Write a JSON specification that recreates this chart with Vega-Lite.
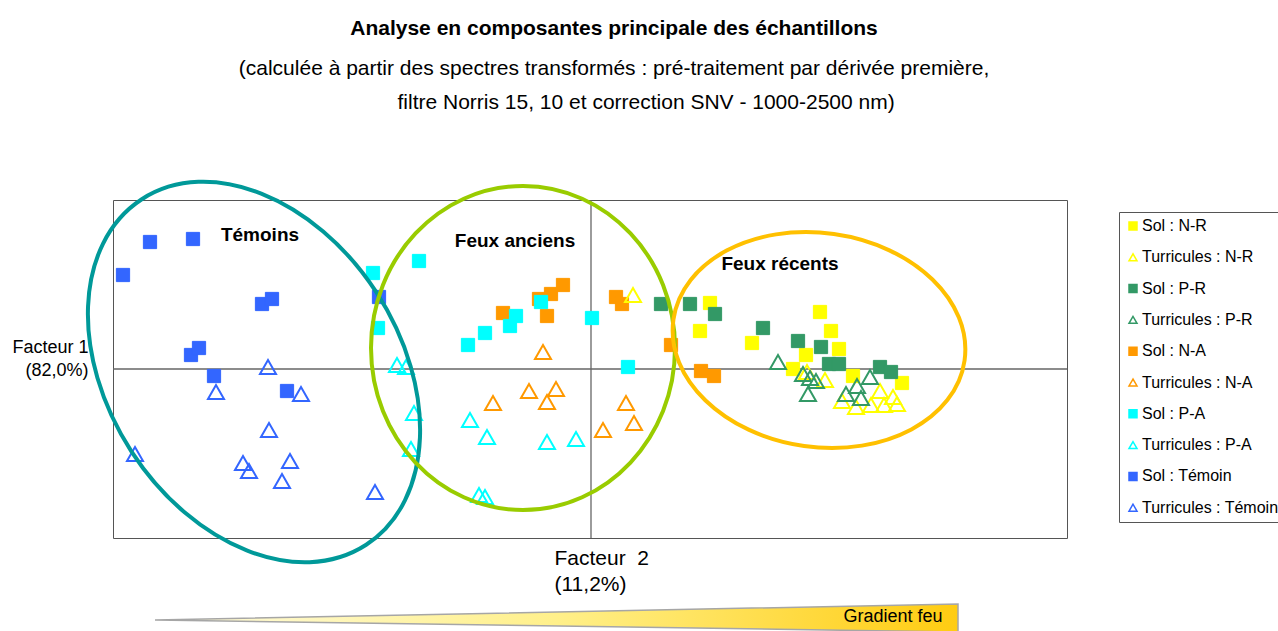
{
  "$schema": "https://vega.github.io/schema/vega-lite/v6.json",
  "width": 954,
  "height": 338,
  "autosize": {"type": "none"},
  "padding": {"left": 113, "top": 200, "right": 211, "bottom": 93},
  "background": "white",
  "config": {
    "font": "Liberation Sans",
    "view": {"stroke": "#555555", "strokeWidth": 1},
    "axis": {"domain": false, "ticks": false, "labels": false, "grid": false, "titleFont": "Liberation Sans", "titleFontWeight": "normal", "titleColor": "black"},
    "axisX": {"titleX": 441, "titleY": 26, "titleAlign": "left", "titleBaseline": "alphabetic", "titleLineHeight": 26, "titleFontSize": 21},
    "axisY": {"titleAngle": 0, "titleX": -25, "titleY": 152, "titleAlign": "right", "titleBaseline": "alphabetic", "titleLineHeight": 23, "titleFontSize": 18},
    "legend": {"orient": "none", "legendX": 1006, "legendY": 12, "labelFont": "Liberation Sans", "labelFontSize": 16, "labelColor": "black", "symbolSize": 64, "symbolStrokeWidth": 1.5, "symbolOpacity": 1, "rowPadding": 15.3, "padding": 6, "strokeColor": "#555555", "fillColor": "white", "labelOffset": 1, "labelLimit": 300}
  },
  "title": {
    "text": "Analyse en composantes principale des échantillons",
    "subtitle": ["(calculée à partir des spectres transformés : pré-traitement par dérivée première,", "\u200b\u00a0\u00a0\u00a0\u00a0\u00a0\u00a0\u00a0\u00a0\u00a0\u00a0\u00a0filtre Norris 15, 10 et correction SNV - 1000-2500 nm)"],
    "font": "Liberation Sans",
    "fontSize": 21,
    "fontWeight": "bold",
    "color": "black",
    "subtitleFont": "Liberation Sans",
    "subtitleFontSize": 21,
    "subtitleColor": "black",
    "subtitleLineHeight": 34,
    "subtitlePadding": 19,
    "anchor": "middle",
    "frame": "group",
    "offset": 61,
    "dx": 24
  },
  "datasets": {
    "points": [
      {"serie": "Sol : N-R", "type": "Sol", "x": 119, "y": 66},
      {"serie": "Sol : N-R", "type": "Sol", "x": 109, "y": 38},
      {"serie": "Sol : N-R", "type": "Sol", "x": 161, "y": 26},
      {"serie": "Sol : N-R", "type": "Sol", "x": 229, "y": 57},
      {"serie": "Sol : N-R", "type": "Sol", "x": 240, "y": 38},
      {"serie": "Sol : N-R", "type": "Sol", "x": 215, "y": 14},
      {"serie": "Sol : N-R", "type": "Sol", "x": 248, "y": 20},
      {"serie": "Sol : N-R", "type": "Sol", "x": 202, "y": 0},
      {"serie": "Sol : N-R", "type": "Sol", "x": 262, "y": -7},
      {"serie": "Sol : N-R", "type": "Sol", "x": 311, "y": -14},
      {"serie": "Turricules : N-R", "type": "Turricules", "x": 42, "y": 74},
      {"serie": "Turricules : N-R", "type": "Turricules", "x": 216, "y": -3},
      {"serie": "Turricules : N-R", "type": "Turricules", "x": 234, "y": -11},
      {"serie": "Turricules : N-R", "type": "Turricules", "x": 251, "y": -32},
      {"serie": "Turricules : N-R", "type": "Turricules", "x": 265, "y": -38},
      {"serie": "Turricules : N-R", "type": "Turricules", "x": 280, "y": -36},
      {"serie": "Turricules : N-R", "type": "Turricules", "x": 289, "y": -22},
      {"serie": "Turricules : N-R", "type": "Turricules", "x": 293, "y": -36},
      {"serie": "Turricules : N-R", "type": "Turricules", "x": 302, "y": -28},
      {"serie": "Turricules : N-R", "type": "Turricules", "x": 306, "y": -35},
      {"serie": "Sol : P-R", "type": "Sol", "x": 70, "y": 65},
      {"serie": "Sol : P-R", "type": "Sol", "x": 99, "y": 65},
      {"serie": "Sol : P-R", "type": "Sol", "x": 124, "y": 55},
      {"serie": "Sol : P-R", "type": "Sol", "x": 172, "y": 41},
      {"serie": "Sol : P-R", "type": "Sol", "x": 207, "y": 28},
      {"serie": "Sol : P-R", "type": "Sol", "x": 230, "y": 22},
      {"serie": "Sol : P-R", "type": "Sol", "x": 238, "y": 5},
      {"serie": "Sol : P-R", "type": "Sol", "x": 248, "y": 5},
      {"serie": "Sol : P-R", "type": "Sol", "x": 289, "y": 2},
      {"serie": "Sol : P-R", "type": "Sol", "x": 300, "y": -3},
      {"serie": "Turricules : P-R", "type": "Turricules", "x": 187, "y": 7},
      {"serie": "Turricules : P-R", "type": "Turricules", "x": 212, "y": -5},
      {"serie": "Turricules : P-R", "type": "Turricules", "x": 219, "y": -9},
      {"serie": "Turricules : P-R", "type": "Turricules", "x": 225, "y": -12},
      {"serie": "Turricules : P-R", "type": "Turricules", "x": 217, "y": -25},
      {"serie": "Turricules : P-R", "type": "Turricules", "x": 255, "y": -25},
      {"serie": "Turricules : P-R", "type": "Turricules", "x": 266, "y": -17},
      {"serie": "Turricules : P-R", "type": "Turricules", "x": 270, "y": -29},
      {"serie": "Turricules : P-R", "type": "Turricules", "x": 279, "y": -8},
      {"serie": "Sol : N-A", "type": "Sol", "x": -88, "y": 56},
      {"serie": "Sol : N-A", "type": "Sol", "x": -52, "y": 70},
      {"serie": "Sol : N-A", "type": "Sol", "x": -40, "y": 75},
      {"serie": "Sol : N-A", "type": "Sol", "x": -28, "y": 84},
      {"serie": "Sol : N-A", "type": "Sol", "x": -44, "y": 53},
      {"serie": "Sol : N-A", "type": "Sol", "x": 25, "y": 72},
      {"serie": "Sol : N-A", "type": "Sol", "x": 31, "y": 65},
      {"serie": "Sol : N-A", "type": "Sol", "x": 80, "y": 24},
      {"serie": "Sol : N-A", "type": "Sol", "x": 110, "y": -2},
      {"serie": "Sol : N-A", "type": "Sol", "x": 123, "y": -7},
      {"serie": "Turricules : N-A", "type": "Turricules", "x": -48, "y": 17},
      {"serie": "Turricules : N-A", "type": "Turricules", "x": -98, "y": -34},
      {"serie": "Turricules : N-A", "type": "Turricules", "x": -62, "y": -22},
      {"serie": "Turricules : N-A", "type": "Turricules", "x": -35, "y": -20},
      {"serie": "Turricules : N-A", "type": "Turricules", "x": -44, "y": -33},
      {"serie": "Turricules : N-A", "type": "Turricules", "x": 35, "y": -34},
      {"serie": "Turricules : N-A", "type": "Turricules", "x": 43, "y": -54},
      {"serie": "Turricules : N-A", "type": "Turricules", "x": 12, "y": -61},
      {"serie": "Sol : P-A", "type": "Sol", "x": -218, "y": 96},
      {"serie": "Sol : P-A", "type": "Sol", "x": -172, "y": 108},
      {"serie": "Sol : P-A", "type": "Sol", "x": -213, "y": 41},
      {"serie": "Sol : P-A", "type": "Sol", "x": -123, "y": 24},
      {"serie": "Sol : P-A", "type": "Sol", "x": -106, "y": 36},
      {"serie": "Sol : P-A", "type": "Sol", "x": -81, "y": 43},
      {"serie": "Sol : P-A", "type": "Sol", "x": -75, "y": 53},
      {"serie": "Sol : P-A", "type": "Sol", "x": -50, "y": 67},
      {"serie": "Sol : P-A", "type": "Sol", "x": 1, "y": 51},
      {"serie": "Sol : P-A", "type": "Sol", "x": 37, "y": 2},
      {"serie": "Turricules : P-A", "type": "Turricules", "x": -194, "y": 4},
      {"serie": "Turricules : P-A", "type": "Turricules", "x": -185, "y": 2},
      {"serie": "Turricules : P-A", "type": "Turricules", "x": -177, "y": -44},
      {"serie": "Turricules : P-A", "type": "Turricules", "x": -180, "y": -80},
      {"serie": "Turricules : P-A", "type": "Turricules", "x": -121, "y": -51},
      {"serie": "Turricules : P-A", "type": "Turricules", "x": -104, "y": -68},
      {"serie": "Turricules : P-A", "type": "Turricules", "x": -44, "y": -73},
      {"serie": "Turricules : P-A", "type": "Turricules", "x": -15, "y": -70},
      {"serie": "Turricules : P-A", "type": "Turricules", "x": -112, "y": -126},
      {"serie": "Turricules : P-A", "type": "Turricules", "x": -106, "y": -128},
      {"serie": "Sol : Témoin", "type": "Sol", "x": -441, "y": 127},
      {"serie": "Sol : Témoin", "type": "Sol", "x": -398, "y": 130},
      {"serie": "Sol : Témoin", "type": "Sol", "x": -468, "y": 94},
      {"serie": "Sol : Témoin", "type": "Sol", "x": -329, "y": 65},
      {"serie": "Sol : Témoin", "type": "Sol", "x": -319, "y": 70},
      {"serie": "Sol : Témoin", "type": "Sol", "x": -400, "y": 14},
      {"serie": "Sol : Témoin", "type": "Sol", "x": -392, "y": 21},
      {"serie": "Sol : Témoin", "type": "Sol", "x": -377, "y": -7},
      {"serie": "Sol : Témoin", "type": "Sol", "x": -304, "y": -22},
      {"serie": "Sol : Témoin", "type": "Sol", "x": -212, "y": 72},
      {"serie": "Turricules : Témoin", "type": "Turricules", "x": -323, "y": 2},
      {"serie": "Turricules : Témoin", "type": "Turricules", "x": -375, "y": -23},
      {"serie": "Turricules : Témoin", "type": "Turricules", "x": -290, "y": -25},
      {"serie": "Turricules : Témoin", "type": "Turricules", "x": -322, "y": -61},
      {"serie": "Turricules : Témoin", "type": "Turricules", "x": -456, "y": -85},
      {"serie": "Turricules : Témoin", "type": "Turricules", "x": -348, "y": -94},
      {"serie": "Turricules : Témoin", "type": "Turricules", "x": -342, "y": -102},
      {"serie": "Turricules : Témoin", "type": "Turricules", "x": -301, "y": -92},
      {"serie": "Turricules : Témoin", "type": "Turricules", "x": -309, "y": -112},
      {"serie": "Turricules : Témoin", "type": "Turricules", "x": -216, "y": -123}
    ],
    "ellipses": [
      {"groupe": "Témoins", "x": -337, "y": -3},
      {"groupe": "Feux anciens", "x": -68, "y": 21},
      {"groupe": "Feux récents", "x": 228, "y": 29}
    ],
    "labels": [
      {"label": "Témoins", "x": -331, "y": 134},
      {"label": "Feux anciens", "x": -76, "y": 128},
      {"label": "Feux récents", "x": 189, "y": 105}
    ],
    "wedge": [
      {"x": -436, "y": -251, "y2": -251},
      {"x": 367, "y": -235, "y2": -263}
    ],
    "wedgeLabel": [
      {"label": "Gradient feu", "x": 302, "y": -248}
    ],
    "origin": [
      {"origine": 0}
    ]
  },
  "layer": [
    {
      "data": {"name": "wedge"},
      "mark": {"type": "area", "color": {"gradient": "linear", "x1": 0, "y1": 0, "x2": 1, "y2": 0, "stops": [{"offset": 0, "color": "#FFFCE0"}, {"offset": 0.5, "color": "#FFF08A"}, {"offset": 1, "color": "#FFCC11"}]}, "stroke": "#A6A6A6", "strokeWidth": 1.5, "opacity": 1},
      "encoding": {
        "x": {"field": "x", "type": "quantitative", "scale": {"domain": [-478, 476], "nice": false, "zero": false}, "title": ["Facteur\u00a0 2", "(11,2%)"]},
        "y": {"field": "y", "type": "quantitative", "scale": {"domain": [-169, 169], "nice": false, "zero": false}, "title": ["Facteur 1", "(82,0%)"]},
        "y2": {"field": "y2"}
      }
    },
    {
      "data": {"name": "wedgeLabel"},
      "mark": {"type": "text", "font": "Liberation Sans", "fontSize": 18, "align": "center", "baseline": "middle", "color": "black"},
      "encoding": {
        "x": {"field": "x", "type": "quantitative", "scale": {"domain": [-478, 476], "nice": false, "zero": false}, "title": ["Facteur\u00a0 2", "(11,2%)"]},
        "y": {"field": "y", "type": "quantitative", "scale": {"domain": [-169, 169], "nice": false, "zero": false}, "title": ["Facteur 1", "(82,0%)"]},
        "text": {"field": "label"}
      }
    },
    {
      "data": {"name": "origin"},
      "mark": {"type": "rule", "color": "#666666", "strokeWidth": 1.3},
      "encoding": {"x": {"field": "origine", "type": "quantitative", "scale": {"domain": [-478, 476], "nice": false, "zero": false}, "title": ["Facteur\u00a0 2", "(11,2%)"]}}
    },
    {
      "data": {"name": "origin"},
      "mark": {"type": "rule", "color": "#666666", "strokeWidth": 1.3},
      "encoding": {"y": {"field": "origine", "type": "quantitative", "scale": {"domain": [-169, 169], "nice": false, "zero": false}, "title": ["Facteur 1", "(82,0%)"]}}
    },
    {
      "data": {"name": "points"},
      "transform": [{"filter": {"field": "type", "equal": "Sol"}}],
      "mark": {"type": "point", "size": 175, "strokeWidth": 1, "opacity": 1},
      "encoding": {
        "x": {"field": "x", "type": "quantitative", "scale": {"domain": [-478, 476], "nice": false, "zero": false}, "title": ["Facteur\u00a0 2", "(11,2%)"]},
        "y": {"field": "y", "type": "quantitative", "scale": {"domain": [-169, 169], "nice": false, "zero": false}, "title": ["Facteur 1", "(82,0%)"]},
        "fill": {"field": "serie", "type": "nominal", "title": null, "scale": {"domain": ["Sol : N-R", "Turricules : N-R", "Sol : P-R", "Turricules : P-R", "Sol : N-A", "Turricules : N-A", "Sol : P-A", "Turricules : P-A", "Sol : Témoin", "Turricules : Témoin"], "range": ["#FFFF00", "transparent", "#339966", "transparent", "#FF9900", "transparent", "#00FFFF", "transparent", "#3366FF", "transparent"]}},
        "stroke": {"field": "serie", "type": "nominal", "title": null, "scale": {"domain": ["Sol : N-R", "Turricules : N-R", "Sol : P-R", "Turricules : P-R", "Sol : N-A", "Turricules : N-A", "Sol : P-A", "Turricules : P-A", "Sol : Témoin", "Turricules : Témoin"], "range": ["#FFFF00", "#FFFF00", "#339966", "#339966", "#FF9900", "#FF9900", "#00FFFF", "#00FFFF", "#3366FF", "#3366FF"]}},
        "shape": {"field": "serie", "type": "nominal", "title": null, "scale": {"domain": ["Sol : N-R", "Turricules : N-R", "Sol : P-R", "Turricules : P-R", "Sol : N-A", "Turricules : N-A", "Sol : P-A", "Turricules : P-A", "Sol : Témoin", "Turricules : Témoin"], "range": ["square", "triangle-up", "square", "triangle-up", "square", "triangle-up", "square", "triangle-up", "square", "triangle-up"]}}
      }
    },
    {
      "data": {"name": "points"},
      "transform": [{"filter": {"field": "type", "equal": "Turricules"}}],
      "mark": {"type": "point", "size": 256, "strokeWidth": 2, "opacity": 1},
      "encoding": {
        "x": {"field": "x", "type": "quantitative", "scale": {"domain": [-478, 476], "nice": false, "zero": false}, "title": ["Facteur\u00a0 2", "(11,2%)"]},
        "y": {"field": "y", "type": "quantitative", "scale": {"domain": [-169, 169], "nice": false, "zero": false}, "title": ["Facteur 1", "(82,0%)"]},
        "fill": {"field": "serie", "type": "nominal", "title": null},
        "stroke": {"field": "serie", "type": "nominal", "title": null},
        "shape": {"field": "serie", "type": "nominal", "title": null}
      }
    },
    {
      "data": {"name": "ellipses"},
      "transform": [{"filter": {"field": "groupe", "equal": "Témoins"}}],
      "mark": {"type": "point", "shape": "M1,0C1,0.3915 0.5523,0.709 0,0.709C-0.5523,0.709 -1,0.3915 -1,0C-1,-0.3915 -0.5523,-0.709 0,-0.709C0.5523,-0.709 1,-0.3915 1,0Z", "size": 169744, "angle": 57, "stroke": "#009999", "strokeWidth": 4, "fill": "transparent", "opacity": 1},
      "encoding": {
        "x": {"field": "x", "type": "quantitative", "scale": {"domain": [-478, 476], "nice": false, "zero": false}, "title": ["Facteur\u00a0 2", "(11,2%)"]},
        "y": {"field": "y", "type": "quantitative", "scale": {"domain": [-169, 169], "nice": false, "zero": false}, "title": ["Facteur 1", "(82,0%)"]}
      }
    },
    {
      "data": {"name": "ellipses"},
      "transform": [{"filter": {"field": "groupe", "equal": "Feux anciens"}}],
      "mark": {"type": "point", "shape": "M1,0C1,0.5887 0.5523,1.066 0,1.066C-0.5523,1.066 -1,0.5887 -1,0C-1,-0.5887 -0.5523,-1.066 0,-1.066C0.5523,-1.066 1,-0.5887 1,0Z", "size": 92416, "angle": 0, "stroke": "#99CC00", "strokeWidth": 4, "fill": "transparent", "opacity": 1},
      "encoding": {
        "x": {"field": "x", "type": "quantitative", "scale": {"domain": [-478, 476], "nice": false, "zero": false}, "title": ["Facteur\u00a0 2", "(11,2%)"]},
        "y": {"field": "y", "type": "quantitative", "scale": {"domain": [-169, 169], "nice": false, "zero": false}, "title": ["Facteur 1", "(82,0%)"]}
      }
    },
    {
      "data": {"name": "ellipses"},
      "transform": [{"filter": {"field": "groupe", "equal": "Feux récents"}}],
      "mark": {"type": "point", "shape": "M1,0C1,0.4021 0.5523,0.728 0,0.728C-0.5523,0.728 -1,0.4021 -1,0C-1,-0.4021 -0.5523,-0.728 0,-0.728C0.5523,-0.728 1,-0.4021 1,0Z", "size": 86436, "angle": 8, "stroke": "#FFC000", "strokeWidth": 4, "fill": "transparent", "opacity": 1},
      "encoding": {
        "x": {"field": "x", "type": "quantitative", "scale": {"domain": [-478, 476], "nice": false, "zero": false}, "title": ["Facteur\u00a0 2", "(11,2%)"]},
        "y": {"field": "y", "type": "quantitative", "scale": {"domain": [-169, 169], "nice": false, "zero": false}, "title": ["Facteur 1", "(82,0%)"]}
      }
    },
    {
      "data": {"name": "labels"},
      "mark": {"type": "text", "font": "Liberation Sans", "fontWeight": "bold", "fontSize": 19, "align": "center", "baseline": "middle", "color": "black"},
      "encoding": {
        "x": {"field": "x", "type": "quantitative", "scale": {"domain": [-478, 476], "nice": false, "zero": false}, "title": ["Facteur\u00a0 2", "(11,2%)"]},
        "y": {"field": "y", "type": "quantitative", "scale": {"domain": [-169, 169], "nice": false, "zero": false}, "title": ["Facteur 1", "(82,0%)"]},
        "text": {"field": "label"}
      }
    }
  ]
}
